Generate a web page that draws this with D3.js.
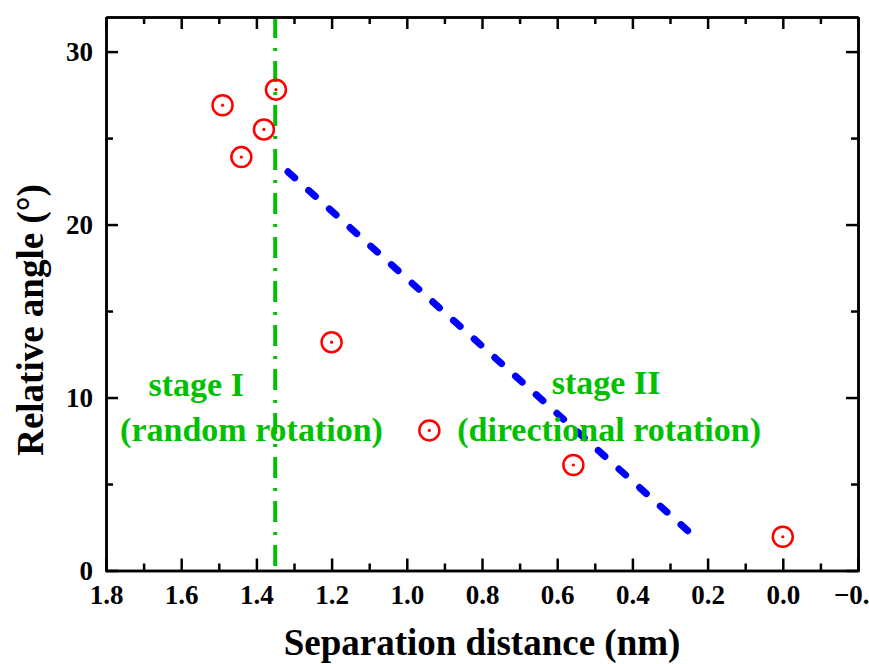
<!DOCTYPE html>
<html>
<head>
<meta charset="utf-8">
<script src="https://cdn.jsdelivr.net/npm/d3@7/dist/d3.min.js"></script>
<style>
  body { margin: 0; background: #fff; }
  svg text { font-family: "Liberation Serif", "Times New Roman", serif; font-weight: bold; }
</style>
</head>
<body>
<svg id="chart" width="869" height="664"></svg>
<script>
// measured points: separation distance (nm) vs relative angle (deg)
const distance = [1.49, 1.44, 1.38, 1.348, 1.20, 0.94, 0.557, 0.0];
const angle = [26.9, 23.9, 25.5, 27.8, 13.2, 8.1, 6.1, 1.95];

// linear trend for stage II
const fitX = [1.316, 0.253];
const fitY = [23.05, 2.3];

// boundary between the two stages
const stageBoundary = 1.35;

const xMajor = [1.8, 1.6, 1.4, 1.2, 1.0, 0.8, 0.6, 0.4, 0.2, 0.0, -0.2];
const xMinor = [1.7, 1.5, 1.3, 1.1, 0.9, 0.7, 0.5, 0.3, 0.1, -0.1];
const yMajor = [0, 10, 20, 30];
const yMinor = [5, 15, 25];

const notes = [
  { x: 1.56, y: 10.1, text: "stage I" },
  { x: 1.413, y: 7.5, text: "(random rotation)" },
  { x: 0.47, y: 10.2, text: "stage II" },
  { x: 0.462, y: 7.5, text: "(directional rotation)" }
];

const svg = d3.select("#chart");
const mLeft = 106, mRight = 858, mTop = 17, mBottom = 570.5;

const x = d3.scaleLinear().domain([1.8, -0.2]).range([mLeft, mRight]);
const y = d3.scaleLinear().domain([0, 32]).range([mBottom, mTop]);

const green = "#00c000";

// stage boundary
svg.append("line")
  .attr("x1", x(stageBoundary)).attr("x2", x(stageBoundary))
  .attr("y1", y(32)).attr("y2", y(0))
  .attr("stroke", green)
  .attr("stroke-width", 4)
  .attr("stroke-dasharray", "21,10,3,10");

// fitted trend, dashes spaced so the line ends on a dash
const fit = svg.append("path")
  .datum(d3.zip(fitX, fitY))
  .attr("d", d3.line().x(d => x(d[0])).y(d => y(d[1])))
  .attr("fill", "none")
  .attr("stroke", "#0000ff")
  .attr("stroke-width", 7)
  .attr("stroke-linecap", "round");
const fitLen = fit.node().getTotalLength();
const dash = 9, nDash = 20;
fit.attr("stroke-dasharray", `${dash},${(fitLen - dash) / (nDash - 1) - dash}`);

// annotations
svg.append("g").selectAll("text")
  .data(notes)
  .join("text")
  .attr("x", d => x(d.x))
  .attr("y", d => y(d.y))
  .attr("text-anchor", "middle")
  .attr("fill", green)
  .attr("font-size", 34)
  .text(d => d.text);

// data points: open circle with a centre dot
const pts = svg.append("g").selectAll("g")
  .data(d3.zip(distance, angle))
  .join("g")
  .attr("transform", d => `translate(${x(d[0])},${y(d[1])})`);
pts.append("circle")
  .attr("r", 10)
  .attr("fill", "none")
  .attr("stroke", "#ff0000")
  .attr("stroke-width", 2.5);
pts.append("circle")
  .attr("r", 1.6)
  .attr("fill", "#ff0000");

// axes, ticks pointing inwards on all four sides
function styleAxis(g) {
  g.selectAll("path.domain").attr("stroke", "#000").attr("stroke-width", 2.5);
  g.selectAll(".tick line").attr("stroke", "#000").attr("stroke-width", 2.5);
  g.selectAll("text").attr("font-size", 27).attr("fill", "#000")
    .style("font-family", "'Liberation Serif', serif").style("font-weight", "bold");
}

svg.append("g").attr("transform", `translate(0,${mBottom})`)
  .call(d3.axisBottom(x).tickValues(xMajor).tickFormat(d3.format(".1f")).tickSize(-12).tickPadding(14))
  .call(styleAxis);
svg.append("g").attr("transform", `translate(0,${mBottom})`)
  .call(d3.axisBottom(x).tickValues(xMinor).tickFormat("").tickSize(-7).tickSizeOuter(0))
  .call(styleAxis);
svg.append("g").attr("transform", `translate(0,${mTop})`)
  .call(d3.axisTop(x).tickValues(xMajor).tickFormat("").tickSize(-12).tickSizeOuter(0))
  .call(styleAxis);
svg.append("g").attr("transform", `translate(0,${mTop})`)
  .call(d3.axisTop(x).tickValues(xMinor).tickFormat("").tickSize(-7).tickSizeOuter(0))
  .call(styleAxis);

svg.append("g").attr("transform", `translate(${mLeft},0)`)
  .call(d3.axisLeft(y).tickValues(yMajor).tickFormat(d3.format("d")).tickSize(-12).tickPadding(13).tickSizeOuter(0))
  .call(styleAxis);
svg.append("g").attr("transform", `translate(${mLeft},0)`)
  .call(d3.axisLeft(y).tickValues(yMinor).tickFormat("").tickSize(-7).tickSizeOuter(0))
  .call(styleAxis);
svg.append("g").attr("transform", `translate(${mRight},0)`)
  .call(d3.axisRight(y).tickValues(yMajor).tickFormat("").tickSize(-12).tickSizeOuter(0))
  .call(styleAxis);
svg.append("g").attr("transform", `translate(${mRight},0)`)
  .call(d3.axisRight(y).tickValues(yMinor).tickFormat("").tickSize(-7).tickSizeOuter(0))
  .call(styleAxis);

// axis titles
svg.append("text")
  .attr("x", (mLeft + mRight) / 2)
  .attr("y", 655)
  .attr("text-anchor", "middle")
  .attr("font-size", 37)
  .text("Separation distance (nm)");

svg.append("text")
  .attr("transform", "translate(43,320) rotate(-90)")
  .attr("text-anchor", "middle")
  .attr("font-size", 37)
  .text("Relative angle (°)");
</script>
</body>
</html>
